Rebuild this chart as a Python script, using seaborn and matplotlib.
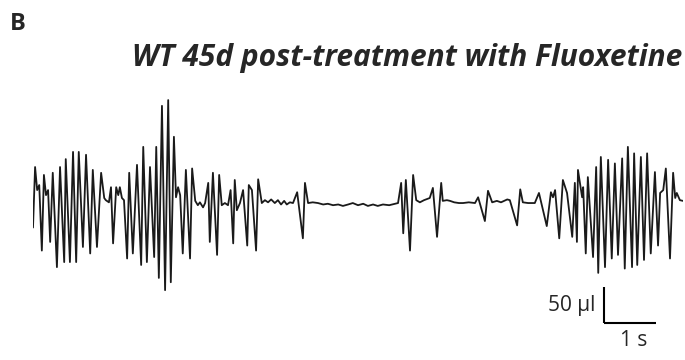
import seaborn as sns
import matplotlib.pyplot as plt

# breathing trace: time (s) and flow (ul)
time_s = [
    0.00, 0.04, 0.08, 0.12, 0.17, 0.21, 0.25, 0.29, 0.33, 0.38, 0.46, 0.52, 0.60, 0.63, 0.71, 0.77,
    0.83, 0.88, 0.96, 1.02, 1.10, 1.15, 1.23, 1.31, 1.37, 1.40, 1.46, 1.50, 1.54, 1.60, 1.64, 1.67,
    1.71, 1.75, 1.81, 1.85, 1.92, 2.00, 2.08, 2.12, 2.19, 2.25, 2.33, 2.37, 2.42, 2.48, 2.54, 2.60,
    2.65, 2.71, 2.75, 2.79, 2.83, 2.88, 2.94, 3.02, 3.06, 3.12, 3.17, 3.21, 3.27, 3.31, 3.37, 3.40,
    3.46, 3.54, 3.58, 3.63, 3.69, 3.75, 3.80, 3.85, 3.88, 3.92, 3.98, 4.04, 4.12, 4.15, 4.21, 4.29,
    4.33, 4.40, 4.46, 4.52, 4.58, 4.65, 4.71, 4.77, 4.83, 4.88, 4.94, 5.00, 5.08, 5.19, 5.23, 5.29,
    5.38, 5.48, 5.58, 5.67, 5.77, 5.87, 5.96, 6.06, 6.15, 6.25, 6.35, 6.44, 6.54, 6.63, 6.73, 6.85,
    6.96, 7.02, 7.08, 7.12, 7.17, 7.25, 7.31, 7.37, 7.44, 7.52, 7.63, 7.69, 7.77, 7.85, 7.88, 7.96,
    8.02, 8.10, 8.19, 8.27, 8.38, 8.50, 8.56, 8.69, 8.75, 8.83, 8.92, 9.00, 9.12, 9.17, 9.31, 9.37,
    9.42, 9.52, 9.65, 9.73, 9.88, 9.96, 10.00, 10.04, 10.12, 10.19, 10.27, 10.37, 10.42, 10.46, 10.48, 10.56,
    10.58, 10.63, 10.67, 10.77, 10.83, 10.87, 10.92, 11.00, 11.06, 11.13, 11.19, 11.25, 11.33, 11.38, 11.44, 11.52,
    11.56, 11.62, 11.69, 11.75, 11.81, 11.88, 11.96, 12.02, 12.06, 12.12, 12.17, 12.25, 12.31, 12.35, 12.38, 12.44,
    12.50,
]
flow_ul = [
    -38, 46, 14, 21, -70, 35, 7, 14, -58, 38, -93, 46, -86, 57, -86, 67,
    -86, 67, -65, 63, -74, 42, -65, 38, 3, 0, -3, 18, -60, 18, 7, 18,
    3, 0, -81, 38, -74, 49, -90, 74, -86, 46, -79, 74, -108, 131, -125, 139,
    -114, 88, 4, 18, 7, -74, 42, -81, 44, -1, -7, -3, -10, -4, 24, -58,
    38, -76, 35, -7, -4, -7, 14, -60, 28, -14, -4, 14, -63, 21, 14, -70,
    29, -4, 0, -3, 1, -4, 0, -6, -1, -6, -3, -4, 11, -53, 24, -4,
    -3, -4, -6, -5, -7, -6, -8, -6, -4, -7, -5, -8, -6, -8, -6, -7,
    -5, -4, 24, -46, 28, -70, 35, 0, -3, 0, 3, 17, -51, 24, -1, 0,
    -1, -3, -4, -4, -3, -4, 4, -29, 13, -3, -1, -3, 1, 0, -35, 15,
    -3, -4, -4, 10, -36, 11, 4, 14, -53, 28, 10, -51, 24, -58, 42, 4,
    18, -74, 32, -79, 46, -101, 60, -93, 56, -81, 51, -76, 58, -95, 74, -93,
    65, -90, 60, -83, 65, -74, 39, -63, 10, 14, 44, -81, 38, 3, 10, 0,
    -1,
]

title = "WT 45d post-treatment with Fluoxetine"
panel = "B"
bar_label_y = "50 \u00b5l"
bar_label_x = "1 s"

sns.set_style("white")
plt.rcParams['font.family'] = ['Open Sans', 'DejaVu Sans']

fig = plt.figure(figsize=(6.85, 3.6), dpi=100)
ax = fig.add_axes([33 / 685, 0, 650 / 685, 1])

sns.lineplot(x=time_s, y=flow_ul, sort=False, estimator=None,
             color='#1a1a1a', linewidth=1.3, ax=ax)

# scale bars: 1 s and 50 ul
ax.plot([10.98, 10.98], [-121, -171], color='black', lw=1.5, solid_capstyle='butt')
ax.plot([10.98, 11.98], [-171, -171], color='black', lw=1.5, solid_capstyle='butt')

ax.set_xlim(0, 12.5)
ax.set_ylim(-222, 278)
ax.axis('off')

fig.text(10 / 685, 1 - 30 / 360, panel, fontsize=17, fontweight='bold', va='baseline', ha='left')
fig.text(682 / 685, 1 - 66 / 360, title, fontsize=21.5, fontweight='bold', fontstyle='italic',
         va='baseline', ha='right')
fig.text(595 / 685, 1 - 305 / 360, bar_label_y, fontsize=15, va='center', ha='right')
fig.text(634 / 685, 1 - 341 / 360, bar_label_x, fontsize=15, va='center', ha='center')

fig.savefig('out.png', dpi=100)
